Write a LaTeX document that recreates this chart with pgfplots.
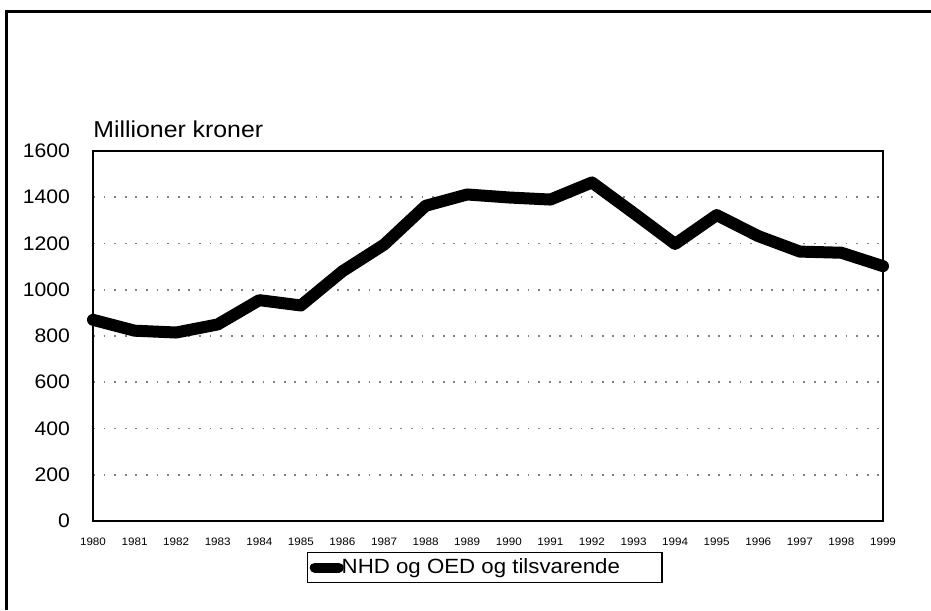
\documentclass[border=0pt]{standalone}
\usepackage{fontspec}
\setmainfont{Liberation Sans}[FakeStretch=1.08]
\usepackage{pgfplots}
\pgfplotsset{compat=1.18}
\begin{document}
\begin{tikzpicture}
\useasboundingbox (0,0) rectangle (465.5pt,305pt);
\draw[line width=1.5pt] (3pt,0) -- (3pt,299.25pt) -- (466pt,299.25pt);
\begin{axis}[
  scale only axis,
  clip=false,
  width=395pt, height=185pt,
  at={(46.5pt,44.5pt)}, anchor=south west,
  xmin=1980, xmax=1999, ymin=0, ymax=1600,
  xtick={1980,1981,...,1999},
  ytick={0,200,...,1600},
  /pgf/number format/1000 sep={},
  /pgf/number format/assume math mode=true,
  major tick length=0pt,
  axis line style={line width=0.8pt, black},
  ymajorgrids,
  major grid style={gray, line width=0.8pt, dash pattern=on 0.9pt off 4.4pt},
  yticklabel style={font=\fontsize{9.8}{11}\selectfont, xshift=-8pt},
  xticklabel style={font=\fontsize{5.4}{6}\selectfont, yshift=-5pt},
  legend style={at={(0.496,-0.0838)}, anchor=north, draw=black, line width=0.6pt,
    font=\fontsize{10.3}{12}\selectfont, inner sep=1pt},
  legend image code/.code={\draw[line width=5pt, line cap=round] (-1pt,0pt) -- (11pt,0pt);},
]
\addplot[black, line width=6pt, line join=round, line cap=round] coordinates {
(1980,870) (1981,823) (1982,815) (1983,850) (1984,955) (1985,932)
(1986,1080) (1987,1195) (1988,1363) (1989,1412) (1990,1399) (1991,1390)
(1992,1464) (1993,1332) (1994,1198) (1995,1323) (1996,1232) (1997,1165)
(1998,1160) (1999,1102)
};
\addlegendentry{\hspace*{-3pt}NHD og OED og tilsvarende\hspace*{18pt}\mbox{}}
\node[anchor=base west, font=\fontsize{11.5}{13}\selectfont, inner sep=0pt] at (rel axis cs:0,1) [yshift=6.5pt] {Millioner kroner};
\end{axis}
\end{tikzpicture}
\end{document}
